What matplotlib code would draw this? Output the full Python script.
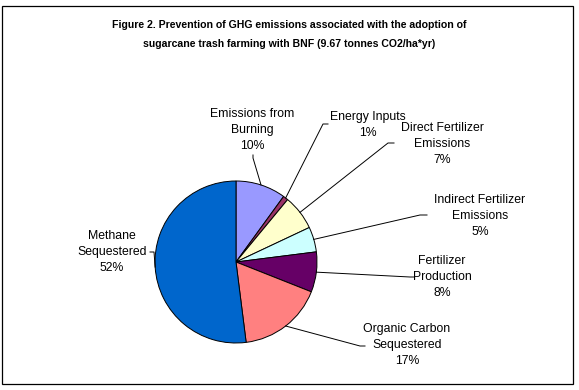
import numpy as np
import matplotlib.pyplot as plt
from matplotlib.patches import Rectangle

plt.rcParams['font.family'] = ['Liberation Sans', 'DejaVu Sans']

labels = ["Emissions from\nBurning", "Energy Inputs", "Direct Fertilizer\nEmissions",
          "Indirect Fertilizer\nEmissions", "Fertilizer\nProduction",
          "Organic Carbon\nSequestered", "Methane\nSequestered"]
shares = [10, 1, 7, 5, 8, 17, 52]
colors = ["#9999FF", "#993366", "#FFFFCC", "#CCFFFF", "#660066", "#FF8080", "#0066CC"]

# label text centres and leader elbow points (pixel coords, y from top)
text_pos = [(252, 130), (368, 125), (442, 144), (480, 216), (442, 277), (407, 345), (112, 252)]
elbows = [(253, 158), (323, 124), (388, 143), (420, 215), (410, 277), (360, 346), (154, 252)]
ends = [(253, 155), (328, 124), (394, 143), (427, 215), (414, 277), (365, 346), (150, 252)]

W, H = 579, 390
fig = plt.figure(figsize=(W / 100, H / 100), dpi=100)
ax = fig.add_axes([0, 0, 1, 1])

ax.add_patch(Rectangle((1.5, H - 383.5), 571.5, 378, fill=False, ec='black', lw=0.9))

ax.text(289, H - 25, "Figure 2. Prevention of GHG emissions associated with the adoption of",
        ha='center', va='center', fontsize=7.6, fontweight='bold')
ax.text(289, H - 44, "sugarcane trash farming with BNF (9.67 tonnes CO2/ha*yr)",
        ha='center', va='center', fontsize=7.6, fontweight='bold')

cx, cy, r = 236, H - 262, 81
wedges, _ = ax.pie(shares, colors=colors, center=(cx, cy), radius=r, startangle=90,
                   counterclock=False, wedgeprops=dict(edgecolor='black', linewidth=0.7),
                   frame=True)
ax.set_xlim(0, W)
ax.set_ylim(0, H)
ax.set_aspect('equal')
ax.axis('off')

total = sum(shares)
cum = 0
for i, s in enumerate(shares):
    mid = (cum + s / 2) / total * 2 * np.pi
    cum += s
    ex = cx + r * np.sin(mid)
    ey = cy + r * np.cos(mid)
    bx, by = elbows[i]
    tx, ty = ends[i]
    ax.plot([ex, bx, tx], [ey, H - by, H - ty], color='black', lw=0.7)
    pct = f"{s / total * 100:.0f}%"
    px, py = text_pos[i]
    ax.text(px, H - py, f"{labels[i]}\n{pct}", ha='center', va='center',
            fontsize=8.8, linespacing=1.4)

fig.savefig("out.png", dpi=100)
